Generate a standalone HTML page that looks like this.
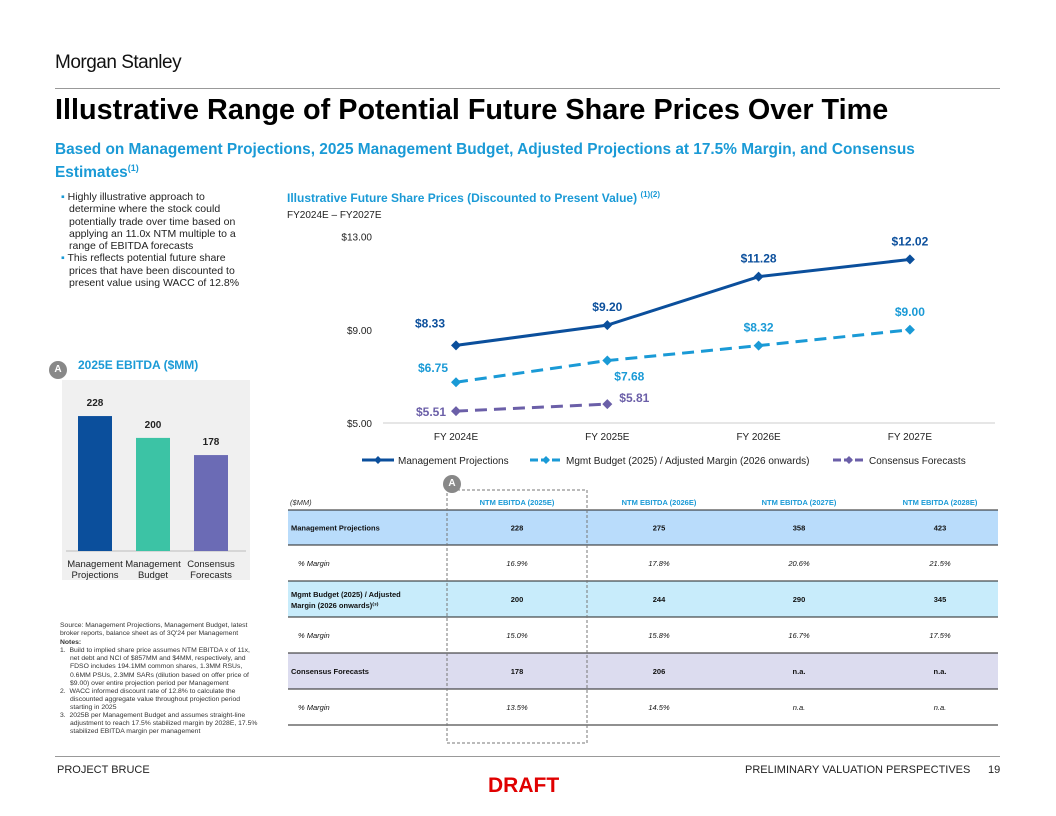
<!DOCTYPE html>
<html><head><meta charset="utf-8"><style>
body{margin:0;width:1056px;height:816px;background:#fff;font-family:"Liberation Sans",sans-serif;position:relative;overflow:hidden}
.a{position:absolute}
</style></head><body>
<div class="a" style="left:55px;top:52px;font-size:19px;color:#111;letter-spacing:-0.5px">Morgan Stanley</div>
<div class="a" style="left:55px;top:88px;width:945px;border-top:1px solid #999"></div>
<div class="a" style="left:55px;top:94px;font-size:28.8px;font-weight:bold;color:#000">Illustrative Range of Potential Future Share Prices Over Time</div>
<div class="a" style="left:55px;top:140px;width:940px;font-size:15.4px;font-weight:bold;color:#1a9ad6;line-height:19px">Based on Management Projections, 2025 Management Budget, Adjusted Projections at 17.5% Margin, and Consensus Estimates<sup style="font-size:9px">(1)</sup></div>
<div class="a" style="left:57px;top:191px;width:188px;font-size:10.5px;color:#222;line-height:12.3px">
<div style="padding-left:12px;text-indent:-8px"><span style="color:#1a9ad6">▪</span> Highly illustrative approach to determine where the stock could potentially trade over time based on applying an 11.0x NTM multiple to a range of EBITDA forecasts</div>
<div style="padding-left:12px;text-indent:-8px"><span style="color:#1a9ad6">▪</span> This reflects potential future share prices that have been discounted to present value using WACC of 12.8%</div></div>
<div class="a" style="left:49px;top:361px;width:18px;height:18px;border-radius:50%;background:#888;color:#fff;font-size:10px;font-weight:bold;text-align:center;line-height:18px">A</div>
<div class="a" style="left:78px;top:358px;font-size:12px;font-weight:bold;color:#1a9ad6">2025E EBITDA ($MM)</div>
<svg class="a" style="left:0;top:0" width="1056" height="816" id="svg"></svg>
<div class="a" style="left:287px;top:190px;font-size:12px;font-weight:bold;color:#1a9ad6">Illustrative Future Share Prices (Discounted to Present Value) <sup style="font-size:8px">(1)(2)</sup></div>
<div class="a" style="left:287px;top:210px;font-size:10px;color:#222">FY2024E – FY2027E</div>
<div class="a" style="left:443px;top:475px;width:18px;height:18px;border-radius:50%;background:#888;color:#fff;font-size:10px;font-weight:bold;text-align:center;line-height:18px">A</div>
<div class="a" style="left:60px;top:622px;width:200px;font-size:6.8px;color:#333;line-height:8.1px">
<div>Source: Management Projections, Management Budget, latest broker reports, balance sheet as of 3Q'24 per Management</div>
<div style="font-weight:bold;margin-top:1px">Notes:</div>
<div style="padding-left:10px;text-indent:-10px">1.&nbsp; Build to implied share price assumes NTM EBITDA x of 11x, net debt and NCI of $857MM and $4MM, respectively, and FDSO includes 194.1MM common shares, 1.3MM RSUs, 0.6MM PSUs, 2.3MM SARs (dilution based on offer price of $9.00) over entire projection period per Management</div>
<div style="padding-left:10px;text-indent:-10px">2.&nbsp; WACC informed discount rate of 12.8% to calculate the discounted aggregate value throughout projection period starting in 2025</div>
<div style="padding-left:10px;text-indent:-10px">3.&nbsp; 2025B per Management Budget and assumes straight-line adjustment to reach 17.5% stabilized margin by 2028E, 17.5% stabilized EBITDA margin per management</div></div>
<div class="a" style="left:55px;top:756px;width:945px;border-top:1px solid #999"></div>
<div class="a" style="left:57px;top:764px;font-size:11px;color:#222">PROJECT BRUCE</div>
<div class="a" style="left:745px;top:764px;font-size:11px;color:#222">PRELIMINARY VALUATION PERSPECTIVES</div>
<div class="a" style="left:988px;top:764px;font-size:11px;color:#222">19</div>
<div class="a" style="left:488px;top:774px;font-size:21px;font-weight:bold;color:#e00000">DRAFT</div>
<script>
const NS="http://www.w3.org/2000/svg";
const svg=document.getElementById('svg');
function mk(t,a,p){const e=document.createElementNS(NS,t);for(const k in a)e.setAttribute(k,a[k]);(p||svg).appendChild(e);return e;}
// Bar chart data
const barCats=[["Management","Projections"],["Management","Budget"],["Consensus","Forecasts"]];
const barVals=[228,200,178];
const barColors=["#0b4f9c","#3cc3a5","#6b6bb5"];
// Line chart data
const years=["FY 2024E","FY 2025E","FY 2026E","FY 2027E"];
const mgmtVals=[8.33,9.20,11.28,12.02];
const budgetVals=[6.75,7.68,8.32,9.00];
const consVals=[5.51,5.81];
const yTicks=[5,9,13];
// table data
const colHeads=["NTM EBITDA (2025E)","NTM EBITDA (2026E)","NTM EBITDA (2027E)","NTM EBITDA (2028E)"];
const rowLabels=["Management Projections","% Margin","Mgmt Budget (2025) / Adjusted Margin (2026 onwards)","% Margin","Consensus Forecasts","% Margin"];
const rowVals=[["228","275","358","423"],["16.9%","17.8%","20.6%","21.5%"],["200","244","290","345"],["15.0%","15.8%","16.7%","17.5%"],["178","206","n.a.","n.a."],["13.5%","14.5%","n.a.","n.a."]];

let r=mk('rect',{x:62,y:380,width:188,height:200,fill:'#f0f0f0'});

const bBase=551,bMin=55,bScale=0.78;
const by=v=>bBase-(v-bMin)*bScale;
mk('line',{x1:66,x2:246,y1:bBase,y2:bBase,stroke:'#bbb'});
barVals.forEach((v,i)=>{const cx=95+i*58;
 const b=mk('rect',{x:cx-17,y:by(v),width:34,height:bBase-by(v),fill:barColors[i]});
 
 
 const t=mk('text',{x:cx,y:by(v)-10,'text-anchor':'middle','font-size':10,'font-weight':'bold',fill:'#222'});t.textContent=v;
 barCats[i].forEach((s,j)=>{const l=mk('text',{x:cx,y:567+j*11,'text-anchor':'middle','font-size':9.5,fill:'#222'});l.textContent=s;});
});
const x0=456,dx=151.3,yb=423,ys=23.3;
const X=i=>x0+i*dx, Y=v=>yb-(v-5)*ys;
mk('line',{x1:383,x2:995,y1:yb,y2:yb,stroke:'#ccc'});
yTicks.forEach(t=>{const e=mk('text',{x:372,y:Y(t)+4,'text-anchor':'end','font-size':10,fill:'#222'});e.textContent='$'+t.toFixed(2);});
years.forEach((s,i)=>{const e=mk('text',{x:X(i),y:yb+17,'text-anchor':'middle','font-size':10,fill:'#222'});e.textContent=s;});
function series(vals,color,dash,name,labOff){
 const pl=mk('polyline',{points:vals.map((v,i)=>X(i)+','+Y(v)).join(' '),fill:'none',stroke:color,'stroke-width':3,'stroke-dasharray':dash});
 
 vals.forEach((v,i)=>{const x=X(i),y=Y(v);
  mk('path',{d:`M${x},${y-5}L${x+5},${y}L${x},${y+5}L${x-5},${y}Z`,fill:color});
  const o=labOff[i];const t=mk('text',{x:x+o[0],y:y+o[1],'text-anchor':'middle','font-size':12,'font-weight':'bold',fill:color});t.textContent='$'+v.toFixed(2);});
}
series(mgmtVals,'#0b4f9c','none','management-projections',[[-26,-18],[0,-14],[0,-14],[0,-14]]);
series(budgetVals,'#1a9ad6','12,7','mgmt-budget',[[-23,-10],[22,20],[0,-14],[0,-14]]);
series(consVals,'#6b5fa8','12,7','consensus-forecasts',[[-25,5],[27,-2]]);
const leg=[["Management Projections","#0b4f9c","none",362],["Mgmt Budget (2025) / Adjusted Margin (2026 onwards)","#1a9ad6","8,3",530],["Consensus Forecasts","#6b5fa8","8,3",833]];
leg.forEach(l=>{mk('line',{x1:l[3],x2:l[3]+32,y1:460,y2:460,stroke:l[1],'stroke-width':3,'stroke-dasharray':l[2]});
 mk('path',{d:`M${l[3]+16},456L${l[3]+20},460L${l[3]+16},464L${l[3]+12},460Z`,fill:l[1]});
 const t=mk('text',{x:l[3]+36,y:464,'font-size':10,fill:'#222'});t.textContent=l[0];});
const tl=288,tr=998;const colX=[517,659,799,940];
const rowTop=[510,545,581,617,653,689],rowH=[35,36,36,36,36,36];
const fills=['#b9dcfb','#fff','#c8ecfb','#fff','#dcdcef','#fff'];
let h=mk('text',{x:290,y:505,'font-size':7.5,'font-style':'italic',fill:'#333'});h.textContent='($MM)';
colHeads.forEach((c,i)=>{const t=mk('text',{x:colX[i],y:505,'text-anchor':'middle','font-size':7.5,'font-weight':'bold',fill:'#1a9ad6'});t.textContent=c;});
rowLabels.forEach((lab,i)=>{const y=rowTop[i];
 const rr=mk('rect',{x:tl,y:y,width:tr-tl,height:rowH[i],fill:fills[i]});
 
 mk('line',{x1:tl,x2:tr,y1:y,y2:y,stroke:'#222','stroke-width':1});
 const cy=y+rowH[i]/2+3;const ital=lab==='% Margin';
 if(i===2){['Mgmt Budget (2025) / Adjusted','Margin (2026 onwards)⁽³⁾'].forEach((s,j)=>{const t=mk('text',{x:291,y:cy-5+j*11,'font-size':7.5,'font-weight':'bold',fill:'#111'});t.textContent=s;});}
 else{const t=mk('text',{x:ital?298:291,y:cy,'font-size':7.5,'font-weight':ital?'normal':'bold','font-style':ital?'italic':'normal',fill:'#111'});t.textContent=lab;}
 rowVals[i].forEach((v,j)=>{const t=mk('text',{x:colX[j],y:cy,'text-anchor':'middle','font-size':7.5,'font-weight':ital?'normal':'bold','font-style':ital?'italic':'normal',fill:'#111'});t.textContent=v;});
});
mk('line',{x1:tl,x2:tr,y1:725,y2:725,stroke:'#222'});
const db=mk('rect',{x:447,y:490,width:140,height:253,fill:'none',stroke:'#777','stroke-dasharray':'3,2'});

</script>
</body></html>
